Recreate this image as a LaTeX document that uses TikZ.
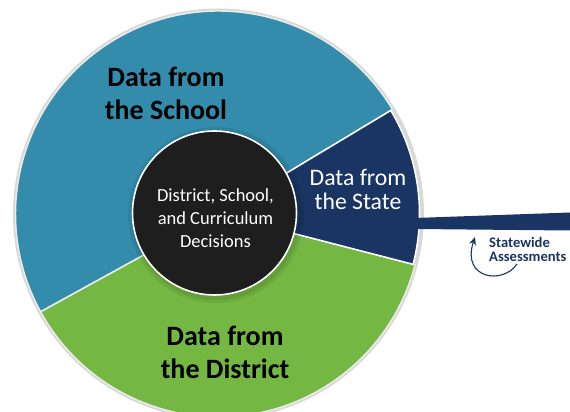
\documentclass[tikz,border=0pt]{standalone}
\usepackage{fontspec}
\setmainfont{Carlito}
\usetikzlibrary{arrows.meta}
\definecolor{schoolc}{HTML}{338CAB}
\definecolor{statec}{HTML}{1A3564}
\definecolor{districtc}{HTML}{74B843}
\definecolor{corec}{HTML}{1E1E1E}
\definecolor{rimc}{HTML}{D8D8D4}
\tikzset{
  sector/.style={draw=white!92!black,line width=1.5pt,line join=round},
  softshade/.style={fill=black,fill opacity=0.07},
  biglabel/.style={align=center,font=\bfseries\fontsize{28}{33}\selectfont,text=black},
  statelabel/.style={align=center,font=\fontsize{23.7}{24}\selectfont,text=white},
  corelabel/.style={align=center,font=\fontsize{18.5}{23}\selectfont,text=white},
  asslabel/.style={align=left,font=\bfseries\fontsize{14.6}{14}\selectfont,text=statec}
}
\begin{document}
\begin{tikzpicture}[x=1pt,y=1pt]
\useasboundingbox (0,0) rectangle (570,412);
\fill[white] (0,0) rectangle (570,412);
\coordinate (c) at (218.5,198);
\coordinate (k) at (214.5,199);
% outer rim
\fill[rimc] (c) circle (205.5);
% sectors
\filldraw[sector,fill=schoolc] (c) -- ++(31:203) arc (31:208.8:203) -- cycle;
\filldraw[sector,fill=districtc] (c) -- ++(208.8:203) arc (208.8:345.5:203) -- cycle;
\filldraw[sector,draw=white,fill=statec] (c) -- ++(345.5:201) arc (345.5:391:201) -- cycle;
% bar to the right
\fill[statec] (415,194) -- (570,199.5) -- (570,181.5) -- (415,183) -- cycle;
% soft shadow of the core
\fill[softshade] (216,197) circle (88);
\fill[softshade] (216,197) circle (85);
% core
\node[circle,draw=white,line width=1.6pt,fill=corec,minimum size=164pt,inner sep=0pt] (core) at (k) {};
\node[corelabel] at (215.5,194) {District, School,\\and Curriculum\\Decisions};
\node[biglabel] at (166,319) {Data from\\the School};
\node[biglabel] at (225,60) {Data from\\the District};
\node[statelabel] at (358,223) {Data from\\the State};
\node[asslabel,anchor=west,inner sep=0pt] (ass) at (489,163) {Statewide\\Assessments};
\coordinate (t1) at (517,148);
\coordinate (t2) at (475,175);
\draw[statec,line width=1.1pt,-{Stealth[length=8pt,width=7pt]}] (t1) .. controls (503,127) and (461,133) .. (t2);
\end{tikzpicture}
\end{document}
